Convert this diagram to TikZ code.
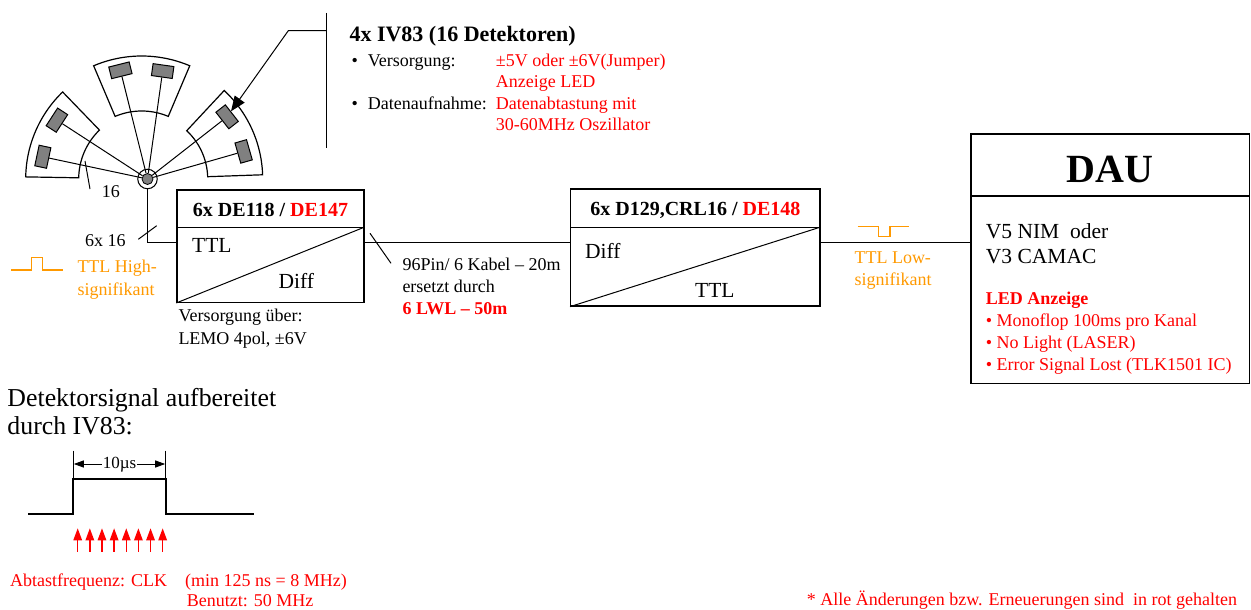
\documentclass[tikz,border=0pt]{standalone}
\usepackage{fontspec}
\setmainfont{Liberation Serif}
\usetikzlibrary{arrows.meta,calc}
\definecolor{chg}{RGB}{255,0,0}
\definecolor{sig}{RGB}{255,153,0}
\definecolor{detgray}{RGB}{128,128,128}
\newcommand{\fsz}[1]{\fontsize{#1}{#1}\selectfont}
\begin{document}
\begin{tikzpicture}[x=1pt,y=-1pt,
  txt/.style={anchor=base west,inner sep=0pt,font=\fsz{18}},
  big/.style={anchor=base west,inner sep=0pt,font=\fsz{21.5}},
  frame/.style={draw,line width=1.3pt,inner sep=0pt},
  wire/.style={line width=1pt},
  det/.style={draw,fill=detgray,line width=1pt,minimum width=12pt,minimum height=21pt,inner sep=0pt},
  sector/.style={line width=1.2pt},
  tick/.style={line width=1pt},
]
\useasboundingbox (0,0) rectangle (1251,610);

% ---------- detector fan (4x IV83) ----------
\draw[sector] plot[domain=181:226,samples=40] ({146.7+121*cos(\x)},{179+121*sin(\x)})
  -- plot[domain=226:181,samples=40] ({146.7+68*cos(\x)},{179+68*sin(\x)}) -- cycle;
\draw[sector] plot[domain=247:293,samples=40] ({141.7+123*cos(\x)},{179+123*sin(\x)})
  -- plot[domain=293:247,samples=40] ({141.7+68*cos(\x)},{179+68*sin(\x)}) -- cycle;
\draw[sector] plot[domain=313:358,samples=40] ({141.7+121*cos(\x)},{179+121*sin(\x)})
  -- plot[domain=358:313,samples=40] ({141.7+66*cos(\x)},{179+66*sin(\x)}) -- cycle;

\node[draw,circle,minimum size=19.5pt,inner sep=0pt,line width=1pt] (hub) at (147.5,179) {};
\node[draw,circle,fill=detgray,minimum size=11pt,inner sep=0pt,line width=0.8pt] (hubdot) at (hub.center) {};

\node[det,rotate=-213] (detA) at ($(hub.center)+(213:108)$) {};
\node[det,rotate=-192] (detB) at ($(hub.center)+(192:107)$) {};
\node[det,rotate=-256] (detC) at ($(hub.center)+(256:112)$) {};
\node[det,rotate=-278] (detD) at ($(hub.center)+(278:109)$) {};
\node[det,rotate=-322] (detE) at ($(hub.center)+(322:101)$) {};
\node[det,rotate=-344] (detF) at ($(hub.center)+(344:100)$) {};

\foreach \d in {detA,detB,detC,detD,detE,detF}
  \draw[wire] (hubdot) -- (\d);

% bundle mark on the left sector
\draw[tick] (85,161) -- (90,189);
\node[txt] (n16) at (101.7,197.3) {16};

% ---------- IV83 description ----------
\coordinate (barT) at (326,13);
\coordinate (barB) at (326,148);
\coordinate (barArm) at (326,30.7);
\coordinate (elbow) at (288.3,30.7);
\draw[wire] (barT) -- (barB);
\draw[wire,-{Triangle[length=15pt,width=12pt]}] (barArm) -- (elbow) -- (detE);

\node[txt,font=\fsz{22}\bfseries] (ivtitle) at (349.3,41.7) {4x IV83 (16 Detektoren)};
\node[txt] (bul1) at (351.5,66.7) {•};
\node[txt] (vers) at (367.7,66.7) {Versorgung:};
\node[txt,text=chg] (vers1) at (495.7,66.7) {±5V oder ±6V(Jumper)};
\node[txt,text=chg] (vers2) at (495.7,87.3) {Anzeige LED};
\node[txt] (bul2) at (351.5,110) {•};
\node[txt] (daten) at (367.7,110) {Datenaufnahme:};
\node[txt,text=chg] (daten1) at (495.7,110) {Datenabtastung mit};
\node[txt,text=chg] (daten2) at (495.7,130.7) {30-60MHz Oszillator};

% ---------- converter boxes ----------
\node[frame,minimum width=187pt,minimum height=37.7pt,text height=15.7pt,text depth=0pt,font=\fsz{20}\bfseries]
  (b1t) at (270.5,208.85) {6x DE118 / \textcolor{chg}{DE147}};
\node[frame,minimum width=187pt,minimum height=74.6pt] (b1b) at (270.5,265) {};
\draw[wire] (b1b.south west) -- (b1b.north east);
\node[big] (b1in) at (192,252.3) {TTL};
\node[big] (b1out) at (278.3,288.3) {Diff};

\node[frame,minimum width=249.3pt,minimum height=38.7pt,text height=14.7pt,text depth=0pt,font=\fsz{20}\bfseries]
  (b2t) at (695.35,208.35) {6x D129,CRL16 / \textcolor{chg}{DE148}};
\node[frame,minimum width=249.3pt,minimum height=78.3pt] (b2b) at (695.35,266.85) {};
\draw[wire] (b2b.south west) -- (b2b.north east);
\node[big] (b2in) at (585,258.3) {Diff};
\node[big] (b2out) at (695,297.3) {TTL};

\node[frame,minimum width=278.5pt,minimum height=62pt,text height=34.6pt,text depth=0pt,font=\fsz{40}\bfseries]
  (daut) at (1110.25,165) {DAU};
\node[frame,minimum width=278.5pt,minimum height=187.3pt] (dau) at (1110.25,289.65) {};
\node[big] (dau1) at (985.7,238.3) {V5 NIM \ oder};
\node[big] (dau2) at (985.7,263.3) {V3 CAMAC};
\node[txt,text=chg,font=\fsz{18}\bfseries] (led) at (985.7,304.3) {LED Anzeige};
\node[txt,text=chg] (led1) at (985.7,326) {• Monoflop 100ms pro Kanal};
\node[txt,text=chg] (led2) at (985.7,348.3) {• No Light (LASER)};
\node[txt,text=chg] (led3) at (985.7,370.7) {• Error Signal Lost (TLK1501 IC)};

% ---------- signal chain ----------
\coordinate (busy) at (0,242.3);
\draw[wire] (hub.south) |- (b1b.west |- busy);
\draw[tick] (138.3,239.3) -- (156.7,225.7);
\node[txt] (n6x16) at (85,246.7) {6x 16};

\draw[wire] (b1b.east |- busy) -- (b2b.west |- busy);
\draw[tick] (370,233.3) -- (391,263.3);
\node[txt] (cab1) at (402.3,270) {96Pin/ 6 Kabel – 20m};
\node[txt] (cab2) at (402.3,292.7) {ersetzt durch};
\node[txt,text=chg,font=\fsz{18}\bfseries] (cab3) at (402.3,314.3) {6 LWL – 50m};

\draw[wire] (b2b.east |- busy) -- (dau.west |- busy);

\node[txt] (sup1) at (178.3,321.7) {Versorgung über:};
\node[txt] (sup2) at (178.3,344) {LEMO 4pol, ±6V};

% TTL pulse symbols
\draw[sig,line width=1.2pt] (11,270) -- (31.7,270) -- (31.7,257.3) -- (42.7,257.3) -- (42.7,270) -- (63.3,270);
\node[txt,text=sig] (hi1) at (77.3,272.7) {TTL High-};
\node[txt,text=sig] (hi2) at (77.3,295) {signifikant};

\draw[sig,line width=1.2pt] (857.7,226.7) -- (878.3,226.7) -- (878.3,236.7) -- (890,236.7) -- (890,226.7) -- (909.3,226.7);
\node[txt,text=sig] (lo1) at (854.3,263.3) {TTL Low-};
\node[txt,text=sig] (lo2) at (854.3,285) {signifikant};

% ---------- detector signal ----------
\node[anchor=base west,inner sep=0pt,font=\fsz{25.8}] (sigt1) at (7.3,406.7) {Detektorsignal aufbereitet};
\node[anchor=base west,inner sep=0pt,font=\fsz{25.8}] (sigt2) at (7.3,434.3) {durch IV83:};

\draw[line width=2pt] (28.3,514.3) -- (73.3,514.3) -- (73.3,479) -- (165.7,479) -- (165.7,514.3) -- (254,514.3);
\draw[wire] (73.3,450.7) -- (73.3,479);
\draw[wire] (165.7,450.7) -- (165.7,479);
\coordinate (dimL) at (73.8,464);
\coordinate (dimR) at (165.2,464);
\node[anchor=base,inner sep=1pt,font=\fsz{17}] (t10) at (119.5,468.3) {10µs};
\draw[wire,-{Triangle[length=10pt,width=7pt]}] (t10.west |- dimL) -- (dimL);
\draw[wire,-{Triangle[length=10pt,width=7pt]}] (t10.east |- dimR) -- (dimR);

\foreach \i in {0,...,7}
  \draw[chg,line width=1.4pt,-{Triangle[length=12pt,width=8.5pt]}] ({77.7+12.14*\i},551.7) -- ({77.7+12.14*\i},528.3);

\node[txt,text=chg] (clk1) at (10,586.7) {Abtastfrequenz: CLK};
\node[txt,text=chg] (clk2) at (185,586.7) {(min 125 ns = 8 MHz)};
\node[txt,text=chg] (clk3) at (186.7,606.7) {Benutzt: 50 MHz};

\node[txt,text=chg] (note) at (806.7,605) {* Alle Änderungen bzw. Erneuerungen sind \ in rot gehalten};
\end{tikzpicture}
\end{document}
